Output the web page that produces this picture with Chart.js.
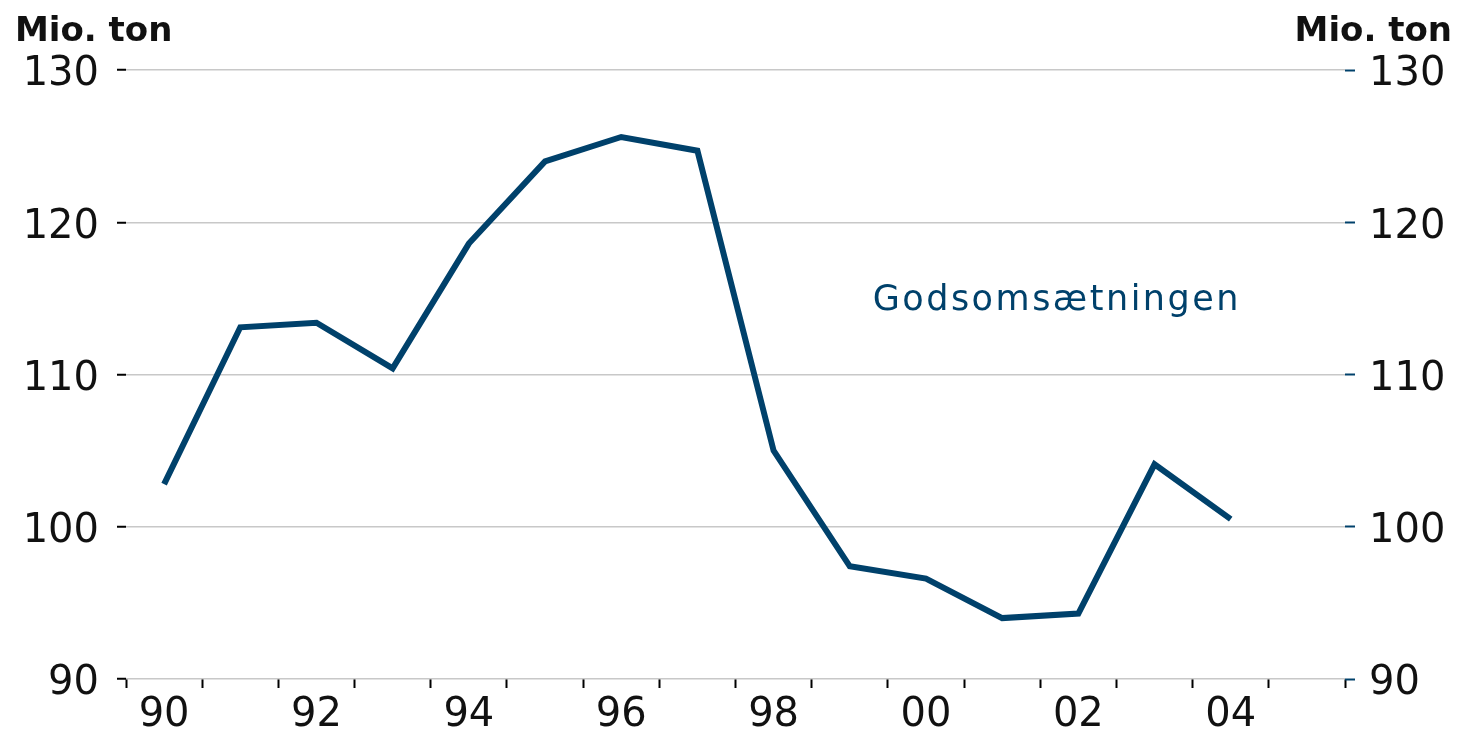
<!DOCTYPE html>
<html>
<head>
<meta charset="utf-8">
<script src="https://cdn.jsdelivr.net/npm/chart.js@4"></script>
<style>
html,body{margin:0;padding:0;background:#fff;}
#wrap{width:1463px;height:734px;}
</style>
</head>
<body>
<div id="wrap"><canvas id="c" width="1463" height="734"></canvas></div>
<script>
const years = ['90','91','92','93','94','95','96','97','98','99','00','01','02','03','04','05'];
const godsomsaetning = [102.8,113.1,113.4,110.4,118.6,124.0,125.6,124.7,105.0,97.4,96.6,94.0,94.3,104.1,100.5,null];
const yTicks = [90,100,110,120,130];
const unitLabel = 'Mio. ton';
const seriesLabel = 'Godsomsætningen';

const lineColor = '#00416b';
const font = "'DejaVu Sans', sans-serif";

const overlay = {
  id: 'overlay',
  afterDraw(chart) {
    const ctx = chart.ctx;
    ctx.save();
    ctx.fillStyle = '#111';
    ctx.font = "bold 34px " + font;
    ctx.textBaseline = 'alphabetic';
    ctx.textAlign = 'left';
    ctx.fillText(unitLabel, 15, 41);
    ctx.textAlign = 'right';
    ctx.fillText(unitLabel, 1452, 41);
    ctx.fillStyle = lineColor;
    ctx.font = "35px " + font;
    ctx.letterSpacing = '2.5px';
    ctx.textAlign = 'left';
    const x = chart.scales.x.getPixelForValue(9.3);
    const y = chart.scales.y.getPixelForValue(115);
    ctx.fillText(seriesLabel, x, y + 12);
    ctx.restore();
  }
};

new Chart(document.getElementById('c'), {
  type: 'line',
  data: {
    labels: years,
    datasets: [{
      data: godsomsaetning,
      borderColor: lineColor,
      borderWidth: 6,
      borderJoinStyle: 'miter',
      pointRadius: 0,
      tension: 0,
      fill: false,
      yAxisID: 'y'
    },{
      data: godsomsaetning,
      borderColor: 'rgba(0,0,0,0)',
      pointRadius: 0,
      yAxisID: 'y2'
    }]
  },
  options: {
    responsive: false,
    animation: false,
    layout: { padding: { top: 70, left: 0, right: 0, bottom: 0 } },
    plugins: { legend: { display: false }, tooltip: { enabled: false } },
    scales: {
      x: {
        offset: true,
        grid: { offset: true, drawOnChartArea: false, tickLength: 9, tickColor: '#000', tickWidth: 2 },
        border: { display: false },
        ticks: {
          autoSkip: false, maxRotation: 0, padding: 4,
          color: '#111', font: { family: font, size: 40 },
          callback: (v, i) => (i % 2 === 0 ? years[i] : '')
        },
        afterFit: s => { s.height = 55; }
      },
      y: {
        position: 'left',
        min: 90, max: 130,
        afterBuildTicks: s => { s.ticks = yTicks.map(v => ({ value: v })); },
        grid: { color: '#c8c8c8', lineWidth: 1.5, tickLength: 9, tickColor: '#000', tickWidth: 2 },
        border: { display: false },
        ticks: { color: '#111', padding: 18, labelOffset: 5, font: { family: font, size: 40 } },
        afterFit: s => { s.width = 126; }
      },
      y2: {
        position: 'right',
        min: 90, max: 130,
        afterBuildTicks: s => { s.ticks = yTicks.map(v => ({ value: v })); },
        grid: { drawOnChartArea: false, tickLength: 10, tickColor: lineColor, tickWidth: 2 },
        border: { display: false },
        ticks: { color: '#111', padding: 14, labelOffset: 5, font: { family: font, size: 40 } },
        afterFit: s => { s.width = 118; }
      }
    }
  },
  plugins: [overlay]
});
</script>
</body>
</html>
